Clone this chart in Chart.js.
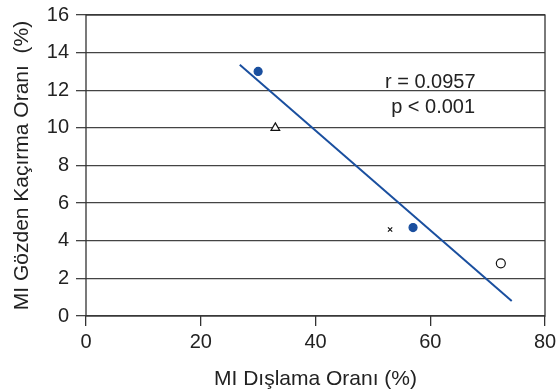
<!DOCTYPE html>
<html>
<head>
<meta charset="utf-8">
<script src="https://cdn.jsdelivr.net/npm/chart.js@4"></script>
<style>
  html, body { margin: 0; padding: 0; background: #fff; }
  #wrap { width: 559px; height: 391px; }
</style>
</head>
<body>
<div id="wrap"><canvas id="myChart" width="559" height="391"></canvas></div>
<script>
// study points
var exclusionRate = [30, 33, 53, 57, 72.3];
var missRate = [13.0, 10.0, 4.6, 4.7, 2.8];
var markerStyle = ['circle', 'triangle', 'crossRot', 'circle', 'circle'];
var markerFilled = [true, false, false, true, false];

// regression line end points
var fitX = [26.8, 74.2];
var fitY = [13.35, 0.8];

var statLines = ["r = 0.0957", "p < 0.001"];

var xTicks = [0, 20, 40, 60, 80];
var yTicks = [0, 2, 4, 6, 8, 10, 12, 14, 16];

var blue = '#1a4f9f';
var ink = '#222';
var fontFam = "'Liberation Sans', Arial, sans-serif";

function markerColor(i){
    return markerFilled[i] ? blue : '#fff';
}

var framePlugin = {
    id: 'frame',
    afterDatasetsDraw: function(chart){
        var ctx = chart.ctx, a = chart.chartArea;
        ctx.save();
        ctx.strokeStyle = '#333';
        ctx.lineWidth = 1.3;
        ctx.strokeRect(a.left, a.top, a.right - a.left, a.bottom - a.top);
        // stats text
        var xs = chart.scales.x, ys = chart.scales.y;
        ctx.fillStyle = ink;
        ctx.font = '20px ' + fontFam;
        ctx.textAlign = 'center';
        ctx.textBaseline = 'middle';
        ctx.fillText(statLines[0], xs.getPixelForValue(60.0), ys.getPixelForValue(12.42));
        ctx.fillText(statLines[1], xs.getPixelForValue(60.5), ys.getPixelForValue(11.08));
        ctx.restore();
    }
};

new Chart(document.getElementById('myChart'), {
    type: 'scatter',
    data: {
        datasets: [{
            label: 'fit',
            type: 'line',
            data: fitX.map(function(x, i){ return {x: x, y: fitY[i]}; }),
            borderColor: blue,
            borderWidth: 2,
            pointRadius: 0,
            fill: false,
            order: 2
        }, {
            label: 'studies',
            data: exclusionRate.map(function(x, i){ return {x: x, y: missRate[i]}; }),
            pointStyle: markerStyle,
            pointRadius: [4, 5, 3, 4, 4.5],
            pointBackgroundColor: exclusionRate.map(function(v, i){ return markerColor(i); }),
            pointBorderColor: markerFilled.map(function(f){ return f ? blue : '#111'; }),
            pointBorderWidth: 1.2,
            order: 1
        }]
    },
    options: {
        responsive: false,
        animation: false,
        layout: { padding: { top: 15, right: 14, left: 0, bottom: 0 } },
        plugins: {
            legend: { display: false },
            tooltip: { enabled: false }
        },
        scales: {
            x: {
                type: 'linear',
                min: 0, max: 80,
                afterBuildTicks: function(s){ s.ticks = xTicks.map(function(v){ return {value: v}; }); },
                afterFit: function(s){ s.height = 75; s.paddingLeft = 0; s.paddingRight = 0; },
                grid: { drawOnChartArea: false, tickLength: 10, color: '#333', lineWidth: 1.3 },
                border: { display: false },
                ticks: { color: ink, font: { size: 20, family: fontFam }, padding: 4, maxRotation: 0 },
                title: { display: true, text: 'MI Dışlama Oranı (%)', color: ink,
                         font: { size: 21, family: fontFam }, padding: { top: 4, bottom: -1 } }
            },
            y: {
                type: 'linear',
                min: 0, max: 16,
                afterBuildTicks: function(s){ s.ticks = yTicks.map(function(v){ return {value: v}; }); },
                afterFit: function(s){ s.width = 86; s.paddingTop = 0; s.paddingBottom = 0; },
                grid: { color: '#444', lineWidth: 1.3, tickLength: 10 },
                border: { display: false },
                ticks: { color: ink, font: { size: 20, family: fontFam }, padding: 7 },
                title: { display: true, text: 'MI Gözden Kaçırma Oranı  (%)', color: ink,
                         font: { size: 21, family: fontFam }, padding: { top: 10, bottom: 2 } }
            }
        }
    },
    plugins: [framePlugin]
});
</script>
</body>
</html>
